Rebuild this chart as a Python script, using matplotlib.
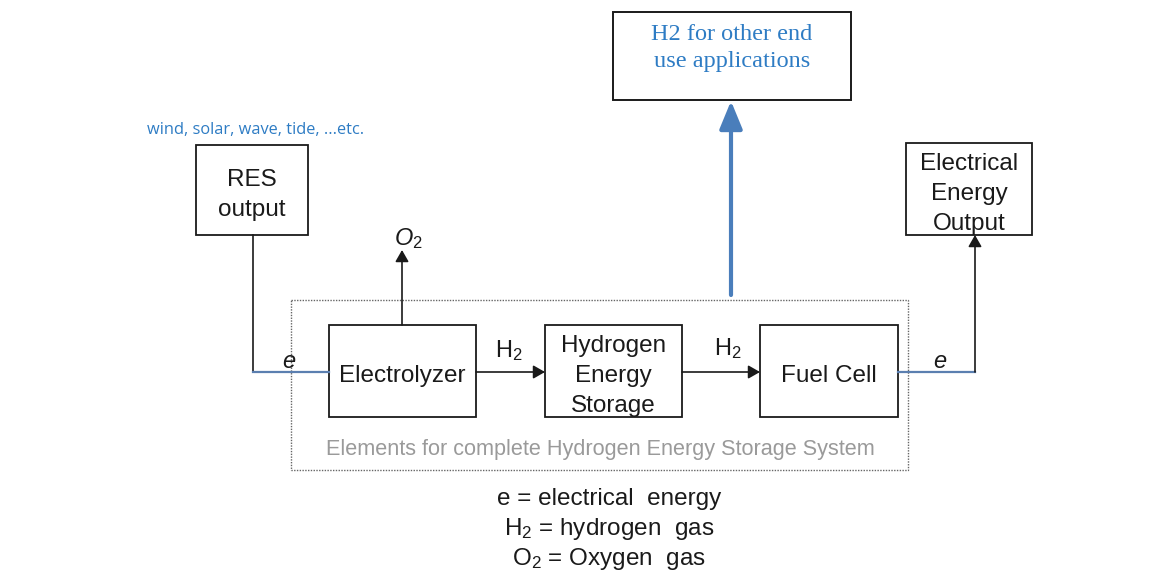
import matplotlib.pyplot as plt
from matplotlib.patches import Rectangle

plt.rcParams['font.family'] = ['Liberation Sans', 'DejaVu Sans']
plt.rcParams['mathtext.fontset'] = 'custom'
plt.rcParams['mathtext.rm'] = 'Liberation Sans'
plt.rcParams['mathtext.it'] = 'Liberation Sans:italic'

# diagram content
block_labels = ['RES\noutput', 'Electrolyzer', 'Hydrogen\nEnergy\nStorage',
                'Fuel Cell', 'Electrical\nEnergy\nOutput']
end_use_label = 'H2 for other end\nuse applications'
source_note = 'wind, solar, wave, tide, ...etc.'
system_label = 'Elements for complete Hydrogen Energy Storage System'
flow_labels = ['e', '$\\mathit{O}_{2}$', 'H$_2$', 'H$_2$', 'e']
legend_lines = ['e = electrical  energy', 'H$_2$ = hydrogen  gas',
                'O$_2$ = Oxygen  gas']

# layout (pixel coords: x0, y0, x1, y1)
block_boxes = [(196, 145, 308, 235), (329, 325, 476, 417), (545, 325, 682, 417),
               (760, 325, 898, 417), (906, 143, 1032, 235)]
end_use_box = (613, 12, 851, 100)
system_box = (291, 300, 908, 470)

fig = plt.figure(figsize=(11.65, 5.72), dpi=100)
ax = fig.add_axes([0, 0, 1, 1])
ax.set_xlim(0, 1165)
ax.set_ylim(572, 0)
ax.axis('off')

dark = '#1a1a1a'
lineblue = '#5b7fb0'
txtblue = '#2e7cc4'


def box(b, lw=1.3, color=dark, ls='-'):
    x0, y0, x1, y1 = b
    ax.add_patch(Rectangle((x0, y0), x1 - x0, y1 - y0, fill=False,
                           lw=lw, ec=color, ls=ls))


def arrow(p0, p1, color=dark, lw=1.2, hw=4, hl=7):
    ax.annotate('', xy=p1, xytext=p0,
                arrowprops=dict(arrowstyle='-|>,head_width=%s,head_length=%s' % (hw / 10, hl / 10),
                                color=color, lw=lw, shrinkA=0, shrinkB=0,
                                mutation_scale=10))


# system dotted frame
box(system_box, lw=1.0, color='#666666', ls=(0, (1, 1)))
ax.text((system_box[0] + system_box[2]) / 2 + 1, 449, system_label, ha='center',
        va='center', fontsize=15.6, color='#9a9a9a')

for lab, b in zip(block_labels, block_boxes):
    box(b)
    ax.text((b[0] + b[2]) / 2, (b[1] + b[3]) / 2 + 5, lab, ha='center',
            va='center', fontsize=17.5, color=dark, linespacing=1.45)

box(end_use_box, lw=1.4)
ax.text((end_use_box[0] + end_use_box[2]) / 2, 48, end_use_label,
        ha='center', va='center', fontsize=17.5, color=txtblue,
        family=['Liberation Serif', 'DejaVu Serif'], linespacing=1.42)

ax.text(256, 130, source_note, ha='center', va='center', fontsize=11.8,
        color=txtblue, family=['Open Sans', 'DejaVu Sans'])

# RES -> electrolyzer
ax.plot([253, 253, 290], [235, 372, 372], color=dark, lw=1.2)
ax.plot([253, 329], [372, 372], color=lineblue, lw=1.6)
ax.text(289, 362, flow_labels[0], ha='center', va='center', fontsize=17,
        style='italic', color=dark)

# O2 out
arrow((402, 325), (402, 250))
ax.text(408, 239, flow_labels[1], ha='center', va='center', fontsize=17,
        color=dark)

# H2 flows
arrow((476, 372), (545, 372))
ax.text(509, 351, flow_labels[2], ha='center', va='center', fontsize=17,
        color=dark)
arrow((682, 372), (760, 372))
ax.text(728, 349, flow_labels[3], ha='center', va='center', fontsize=17,
        color=dark)

# fuel cell -> electrical output
ax.plot([898, 975], [372, 372], color=lineblue, lw=1.6)
arrow((975, 372), (975, 235))
ax.text(940, 361, flow_labels[4], ha='center', va='center', fontsize=17,
        style='italic', color=dark)

# H2 to other end uses
arrow((731, 295), (731, 101), color='#4a7ebb', lw=3, hw=7, hl=17)

for i, line in enumerate(legend_lines):
    ax.text(609, 499 + i * 30, line, ha='center', va='center', fontsize=17.5,
            color=dark)

fig.savefig('out.png', dpi=100)
